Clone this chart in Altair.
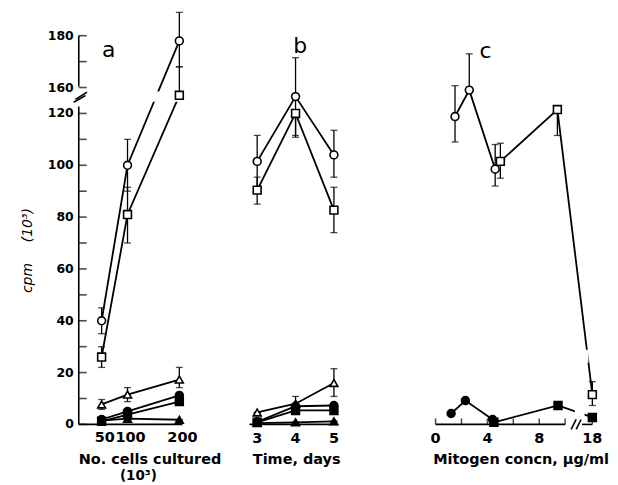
import altair as alt
import pandas as pd

# ---------------- data (cpm x 10^3) ----------------
# panel a : No. cells cultured (x10^3)
a_x = [50, 100, 200]
a_open_circle = [40, 100, 178]
a_open_circle_lo = [35, 90, 168]
a_open_circle_hi = [45, 110, 189]
a_open_square = [26, 81, 157]
a_open_square_lo = [22, 70, 157]
a_open_square_hi = [30, 91.5, 168]
a_open_tri = [7.7, 11.5, 17.3]
a_open_tri_lo = [5.8, 8.8, 14.2]
a_open_tri_hi = [9.6, 14.2, 22]
a_filled_circle = [1.9, 5, 11.2]
a_filled_square = [1.2, 3.8, 8.8]
a_filled_tri = [1.5, 2.2, 1.8]

# panel b : time, days
b_x = [3, 4, 5]
b_open_circle = [101.5, 126.5, 104]
b_open_circle_lo = [91.5, 111.5, 95.4]
b_open_circle_hi = [111.5, 141.5, 113.5]
b_open_square = [90.4, 120, 82.7]
b_open_square_lo = [85, 110.8, 74]
b_open_square_hi = [95.4, 120, 91.5]
b_open_tri = [4.6, 8, 16]
b_open_tri_lo = [4.6, 8, 10.8]
b_open_tri_hi = [4.6, 10.8, 21.5]
b_filled_circle = [1, 7, 7.3]
b_filled_square = [0.8, 5.4, 5.4]
b_filled_tri = [0.5, 0.8, 1.2]

# panel c : mitogen concentration, ug/ml
c_open_circle_x = [1.5, 2.6, 4.6]
c_open_circle = [118.8, 129, 98.5]
c_open_circle_lo = [109, 129, 92]
c_open_circle_hi = [130.7, 143, 108]
c_open_square_x = [5.0, 9.4, 18]
c_open_square = [101.5, 121.5, 11.5]
c_open_square_lo = [95, 111.5, 7.3]
c_open_square_hi = [108.5, 121.5, 16.5]
c_filled_circle_x = [1.2, 2.3, 4.4]
c_filled_circle = [4.2, 9.2, 1.9]
c_filled_square_x = [4.5, 9.45, 18]
c_filled_square = [0.8, 7.3, 2.7]

# axes
y_tick_values = [0, 10, 20, 30, 40, 50, 60, 70, 80, 90, 100, 110, 120, 160, 170, 180]
y_label_values = [0, 20, 40, 60, 80, 100, 120, 160, 180]
a_tick_labels = [50, 100, 200]
b_tick_labels = [3, 4, 5]
c_tick_values = [0, 2, 4, 6, 8, 10, 18]
c_tick_labels = [0, 4, 8, 18]

FONT = "DejaVu Sans"
SERIES = ["oc", "os", "ot", "fc", "fs", "ft"]
SHAPES = ["circle", "square", "triangle-up", "circle", "square", "triangle-up"]
FILLS = ["white", "white", "white", "black", "black", "black"]
SIZES = [62, 62, 62, 40, 42, 42]

H = 416
YDOM = [0, 160]
# broken axes: y above the break shifted down by 30, x beyond the break shifted by 5.9
YCALC = "datum.{f} >= 150 ? datum.{f} - 30 : datum.{f}"
XCALC = "datum.x > 12 ? datum.x - 5.9 : datum.x"


def rows(series, xs, ys, lo=None, hi=None):
    lo = ys if lo is None else lo
    hi = ys if hi is None else hi
    return [dict(series=s, x=x, y=y, lo=l, hi=h)
            for s, x, y, l, h in zip([series] * len(xs), xs, ys, lo, hi)]


da = pd.DataFrame(
    rows("oc", a_x, a_open_circle, a_open_circle_lo, a_open_circle_hi)
    + rows("os", a_x, a_open_square, a_open_square_lo, a_open_square_hi)
    + rows("ot", a_x, a_open_tri, a_open_tri_lo, a_open_tri_hi)
    + rows("fc", a_x, a_filled_circle)
    + rows("fs", a_x, a_filled_square)
    + rows("ft", a_x, a_filled_tri))
db = pd.DataFrame(
    rows("oc", b_x, b_open_circle, b_open_circle_lo, b_open_circle_hi)
    + rows("os", b_x, b_open_square, b_open_square_lo, b_open_square_hi)
    + rows("ot", b_x, b_open_tri, b_open_tri_lo, b_open_tri_hi)
    + rows("fc", b_x, b_filled_circle)
    + rows("fs", b_x, b_filled_square)
    + rows("ft", b_x, b_filled_tri))
dc = pd.DataFrame(
    rows("oc", c_open_circle_x, c_open_circle, c_open_circle_lo, c_open_circle_hi)
    + rows("os", c_open_square_x, c_open_square, c_open_square_lo, c_open_square_hi)
    + rows("fc", c_filled_circle_x, c_filled_circle)
    + rows("fs", c_filled_square_x, c_filled_square))


def panel(df, xdom, width, extra_front=(), extra_back=()):
    xs = alt.Scale(domain=xdom, nice=False, zero=False)
    ys = alt.Scale(domain=YDOM, nice=False, zero=False)
    base = alt.Chart(df).transform_calculate(
        xp=XCALC,
        yp=YCALC.format(f="y"), lop=YCALC.format(f="lo"), hip=YCALC.format(f="hi"))
    X = alt.X("xp:Q", scale=xs, axis=None)
    lines = base.mark_line(color="black", strokeWidth=1.8).encode(
        x=X, y=alt.Y("yp:Q", scale=ys, axis=None), detail="series:N", order="xp:Q")
    err = base.mark_rule(color="black", strokeWidth=1.3).encode(
        x=X, y=alt.Y("lop:Q", scale=ys, axis=None), y2="hip:Q")
    cap_hi = base.mark_tick(orient="horizontal", color="black", size=7, thickness=1.3).encode(
        x=X, y=alt.Y("hip:Q", scale=ys, axis=None))
    cap_lo = base.mark_tick(orient="horizontal", color="black", size=7, thickness=1.3).encode(
        x=X, y=alt.Y("lop:Q", scale=ys, axis=None))
    pts = base.mark_point(filled=True, stroke="black", strokeWidth=1.6, opacity=1).encode(
        x=X, y=alt.Y("yp:Q", scale=ys, axis=None),
        shape=alt.Shape("series:N", scale=alt.Scale(domain=SERIES, range=SHAPES), legend=None),
        fill=alt.Fill("series:N", scale=alt.Scale(domain=SERIES, range=FILLS), legend=None),
        size=alt.Size("series:N", scale=alt.Scale(domain=SERIES, range=SIZES), legend=None))
    layers = [lines, err, cap_hi, cap_lo] + list(extra_front) + [pts] + list(extra_back)
    return alt.layer(*layers).properties(width=width, height=H)


def seg_chart(segs, xs, ys, width=1.6):
    d = pd.DataFrame(segs, columns=["x", "x2", "y", "y2"])
    return alt.Chart(d).mark_rule(color="black", strokeWidth=width).encode(
        x=alt.X("x:Q", scale=xs, axis=None), x2="x2:Q",
        y=alt.Y("y:Q", scale=ys, axis=None), y2="y2:Q")


def band_chart(bands, xs, ys):
    d = pd.DataFrame(bands, columns=["x", "x2", "y", "y2"])
    return alt.Chart(d).mark_rect(color="white").encode(
        x=alt.X("x:Q", scale=xs, axis=None), x2="x2:Q",
        y=alt.Y("y:Q", scale=ys, axis=None), y2="y2:Q")


def text_chart(d, xs, ys, **kw):
    return alt.Chart(pd.DataFrame(d)).mark_text(font=FONT, color="black", **kw).encode(
        x=alt.X("x:Q", scale=xs, axis=None), y=alt.Y("y:Q", scale=ys, axis=None),
        text="t:N")


xsa = alt.Scale(domain=[0, 327], nice=False, zero=False)
xsb = alt.Scale(domain=[2.766, 7.649], nice=False, zero=False)
xsc = alt.Scale(domain=[0, 12.846], nice=False, zero=False)
ysc = alt.Scale(domain=YDOM, nice=False, zero=False)


def ybreak(v):
    return v - 30 if v >= 150 else v


NUM = dict(fontSize=12.5, fontWeight="bold")
TIT = dict(fontSize=14.5, fontWeight="bold")

# ---- panel a decorations
a_front = [band_chart([(2, 327, 124.5, 128.5)], xsa, ysc)]
ytick_df = pd.DataFrame({"x": [0] * len(y_tick_values), "y": [ybreak(v) for v in y_tick_values]})
a_ticks = alt.Chart(ytick_df).mark_tick(orient="horizontal", color="black", size=8,
                                        thickness=1.6, xOffset=4).encode(
    x=alt.X("x:Q", scale=xsa, axis=None), y=alt.Y("y:Q", scale=ysc, axis=None))
a_axes = seg_chart([(0, 0, 0, 122.7), (0, 0, 130.4, 150), (0, 200, 0, 0),
                    (-9.6, 12.8, 124.3, 126.9), (-6.4, 16, 125.4, 128.2)], xsa, ysc)
a_ylabels = text_chart({"x": [0] * len(y_label_values), "y": [ybreak(v) for v in y_label_values],
                        "t": [str(v) for v in y_label_values]}, xsa, ysc,
                       align="right", baseline="middle", dx=-5, **NUM)
a_xlabels = text_chart({"x": a_tick_labels, "y": [0] * 3, "t": [str(v) for v in a_tick_labels]},
                       xsa, ysc, align="center", baseline="middle", dy=14, fontSize=14.5,
                       fontWeight="bold")
a_titles = text_chart({"x": [137.5], "y": [0], "t": ["No. cells cultured"]},
                      xsa, ysc, align="center", baseline="middle", dy=36, **TIT)
a_title2 = text_chart({"x": [115], "y": [0], "t": ["(10³)"]},
                      xsa, ysc, align="center", baseline="middle", dy=52, fontSize=13.5,
                      fontWeight="bold")
a_ytitle1 = text_chart({"x": [-98], "y": [56.5], "t": ["cpm"]}, xsa, ysc,
                       align="center", baseline="middle", angle=270, fontSize=14, fontStyle="italic")
a_ytitle2 = text_chart({"x": [-98], "y": [76.9], "t": ["(10³)"]}, xsa, ysc,
                       align="center", baseline="middle", angle=270, fontSize=14, fontStyle="italic")
a_letter = text_chart({"x": [58], "y": [144.6], "t": ["a"]}, xsa, ysc,
                      align="center", baseline="middle", fontSize=22)

pa = panel(da, [0, 327], 170, extra_front=a_front,
           extra_back=[a_axes, a_ticks, a_ylabels, a_xlabels, a_titles, a_title2,
                       a_ytitle1, a_ytitle2, a_letter])

# ---- panel b decorations
b_axes = seg_chart([(2.8, 5.1, 0, 0)], xsb, ysc)
b_xlabels = text_chart({"x": b_tick_labels, "y": [0] * 3, "t": [str(v) for v in b_tick_labels]},
                       xsb, ysc, align="center", baseline="middle", dy=15, fontSize=14.5,
                       fontWeight="bold")
b_title = text_chart({"x": [4.03], "y": [0], "t": ["Time, days"]}, xsb, ysc,
                     align="center", baseline="middle", dy=36, **TIT)
b_letter = text_chart({"x": [4.12], "y": [146], "t": ["b"]}, xsb, ysc,
                      align="center", baseline="middle", fontSize=22)
pb = panel(db, [2.766, 7.649], 188, extra_back=[b_axes, b_xlabels, b_title, b_letter])

# ---- panel c decorations
XSH = 5.9
c_front = [band_chart([(10.75, 11.5, -2, 8), (11.45, 11.8, 23.8, 28.8)], xsc, ysc)]
c_axes = seg_chart([(0, 10, 0, 0), (11.3, 18 - XSH, 0, 0),
                    (10.46, 10.85, -1.9, 1.9), (10.85, 11.23, -1.9, 1.9)], xsc, ysc)
ctick_df = pd.DataFrame({"x": [v - XSH if v > 12 else v for v in c_tick_values],
                         "y": [0] * len(c_tick_values)})
c_ticks = alt.Chart(ctick_df).mark_tick(orient="vertical", color="black", size=6,
                                        thickness=1.5, yOffset=-3).encode(
    x=alt.X("x:Q", scale=xsc, axis=None), y=alt.Y("y:Q", scale=ysc, axis=None))
c_xlabels = text_chart({"x": [v - XSH if v > 12 else v for v in c_tick_labels],
                        "y": [0] * len(c_tick_labels), "t": [str(v) for v in c_tick_labels]},
                       xsc, ysc, align="center", baseline="middle", dy=15, fontSize=14.5,
                       fontWeight="bold")
c_title = text_chart({"x": [6.6], "y": [0], "t": ["Mitogen concn, µg/ml"]}, xsc, ysc,
                     align="center", baseline="middle", dy=36, **TIT)
c_letter = text_chart({"x": [3.85], "y": [144], "t": ["c"]}, xsc, ysc,
                      align="center", baseline="middle", fontSize=22)
pc = panel(dc, [0, 12.846], 167, extra_front=c_front,
           extra_back=[c_axes, c_ticks, c_xlabels, c_title, c_letter])

chart = alt.hconcat(pa, pb, pc, spacing=0, bounds="flush").configure_view(
    stroke=None).properties(padding={"left": 13, "top": 1, "right": 0, "bottom": 0})

chart.save("out.html", embed_options={"renderer": "svg", "actions": False})
